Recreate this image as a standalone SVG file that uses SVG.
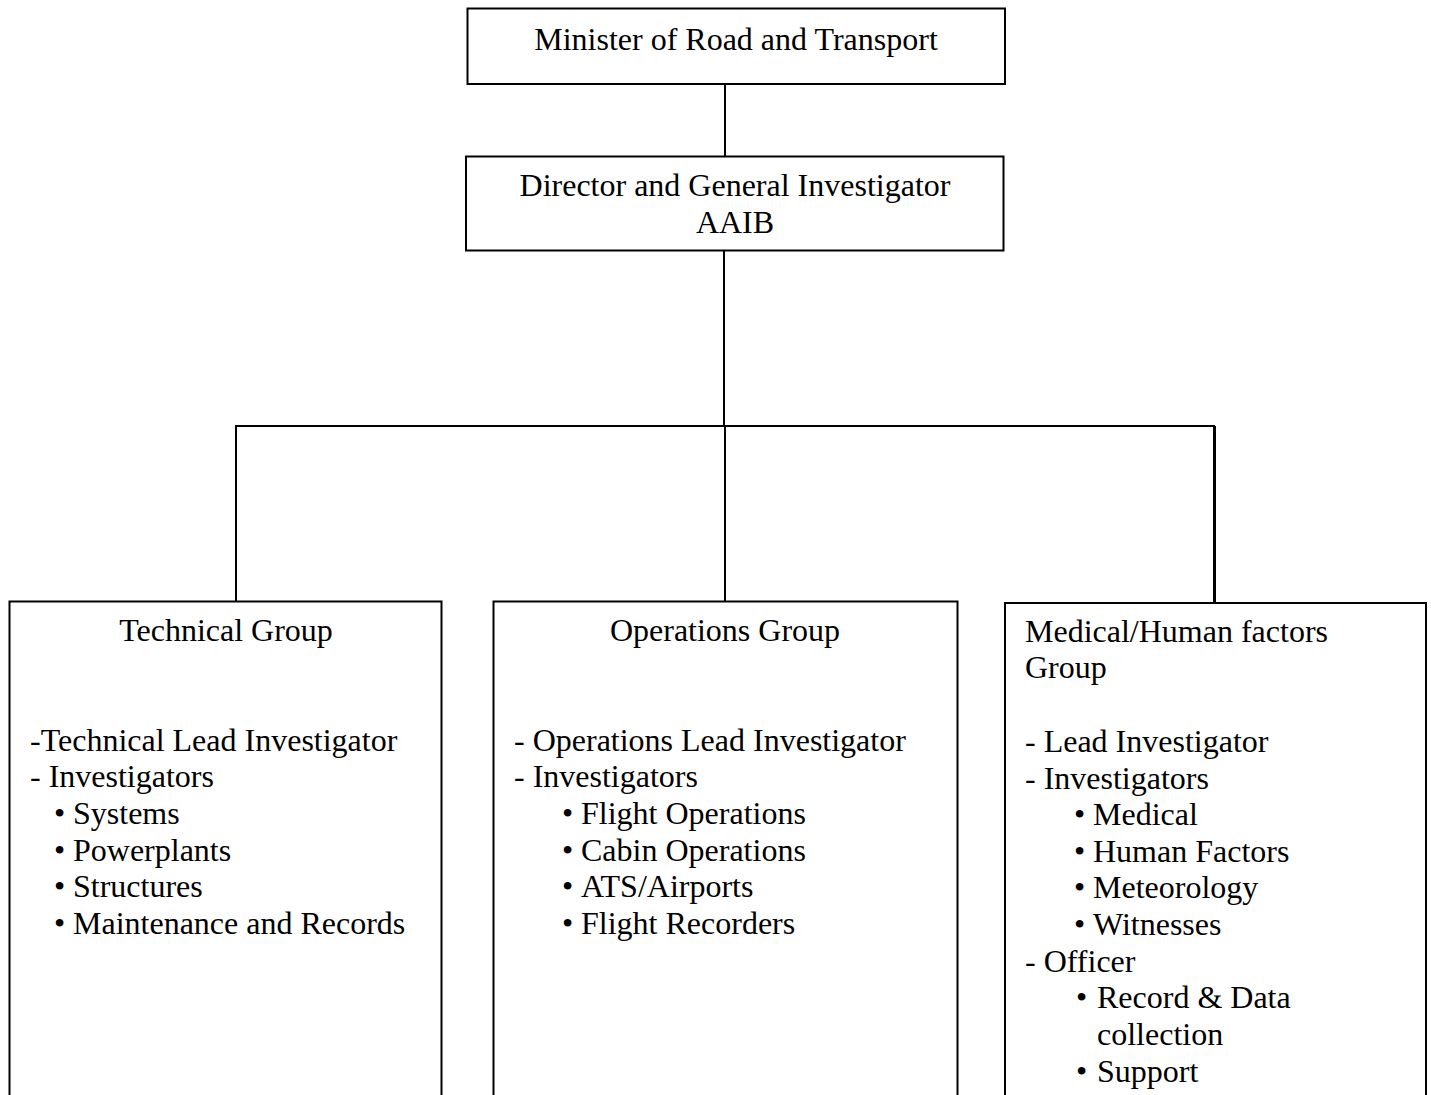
<svg xmlns="http://www.w3.org/2000/svg" width="1431" height="1095" viewBox="0 0 1431 1095">
<style>
  .box { fill: #ffffff; stroke: #000000; stroke-width: 2; }
  .conn { fill: none; stroke: #000000; stroke-width: 2; }
  text { font-family: "Liberation Serif", "Times New Roman", serif; font-size: 32px; fill: #000000; }
  .c { text-anchor: middle; }
</style>
<rect width="1431" height="1095" fill="#ffffff"/>
<g id="connectors">
  <line class="conn" x1="725" y1="84" x2="725" y2="156"/>
  <line class="conn" x1="724" y1="250" x2="724" y2="426"/>
  <polyline class="conn" points="236,601 236,426 1215,426"/>
  <line class="conn" x1="725" y1="426" x2="725" y2="601"/>
  <line class="conn" style="stroke-width:3" x1="1214.5" y1="426" x2="1214.5" y2="603"/>
</g>
<g id="minister">
  <rect class="box" x="467.5" y="8.5" width="537.5" height="75.5"/>
  <text class="c" x="736" y="50">Minister of Road and Transport</text>
</g>
<g id="director">
  <rect class="box" x="466" y="156.5" width="537.5" height="94"/>
  <text class="c" x="735" y="196">Director and General Investigator</text>
  <text class="c" x="735" y="233">AAIB</text>
</g>
<g id="technical">
  <rect class="box" x="9.5" y="601.5" width="432" height="520"/>
  <text class="c" x="226" y="641">Technical Group</text>
  <text x="30" y="751">-Technical Lead Investigator</text>
  <text x="30" y="787">- Investigators</text>
  <text y="824"><tspan x="54">•</tspan><tspan x="73">Systems</tspan></text>
  <text y="861"><tspan x="54">•</tspan><tspan x="73">Powerplants</tspan></text>
  <text y="897"><tspan x="54">•</tspan><tspan x="73">Structures</tspan></text>
  <text y="934"><tspan x="54">•</tspan><tspan x="73">Maintenance and Records</tspan></text>
</g>
<g id="operations">
  <rect class="box" x="493.5" y="601.5" width="464" height="520"/>
  <text class="c" x="725" y="641">Operations Group</text>
  <text x="514" y="751">- Operations Lead Investigator</text>
  <text x="514" y="787">- Investigators</text>
  <text y="824"><tspan x="562">•</tspan><tspan x="581">Flight Operations</tspan></text>
  <text y="861"><tspan x="562">•</tspan><tspan x="581">Cabin Operations</tspan></text>
  <text y="897"><tspan x="562">•</tspan><tspan x="581">ATS/Airports</tspan></text>
  <text y="934"><tspan x="562">•</tspan><tspan x="581">Flight Recorders</tspan></text>
</g>
<g id="medical">
  <rect class="box" x="1005" y="603" width="421" height="520"/>
  <text x="1025" y="642">Medical/Human factors</text>
  <text x="1025" y="678">Group</text>
  <text x="1025" y="752">- Lead Investigator</text>
  <text x="1025" y="789">- Investigators</text>
  <text y="825"><tspan x="1074">•</tspan><tspan x="1093">Medical</tspan></text>
  <text y="862"><tspan x="1074">•</tspan><tspan x="1093">Human Factors</tspan></text>
  <text y="898"><tspan x="1074">•</tspan><tspan x="1093">Meteorology</tspan></text>
  <text y="935"><tspan x="1074">•</tspan><tspan x="1093">Witnesses</tspan></text>
  <text x="1025" y="972">- Officer</text>
  <text y="1008"><tspan x="1076">•</tspan><tspan x="1097">Record &amp; Data</tspan></text>
  <text x="1097" y="1045">collection</text>
  <text y="1082"><tspan x="1076">•</tspan><tspan x="1097">Support</tspan></text>
</g>
</svg>
